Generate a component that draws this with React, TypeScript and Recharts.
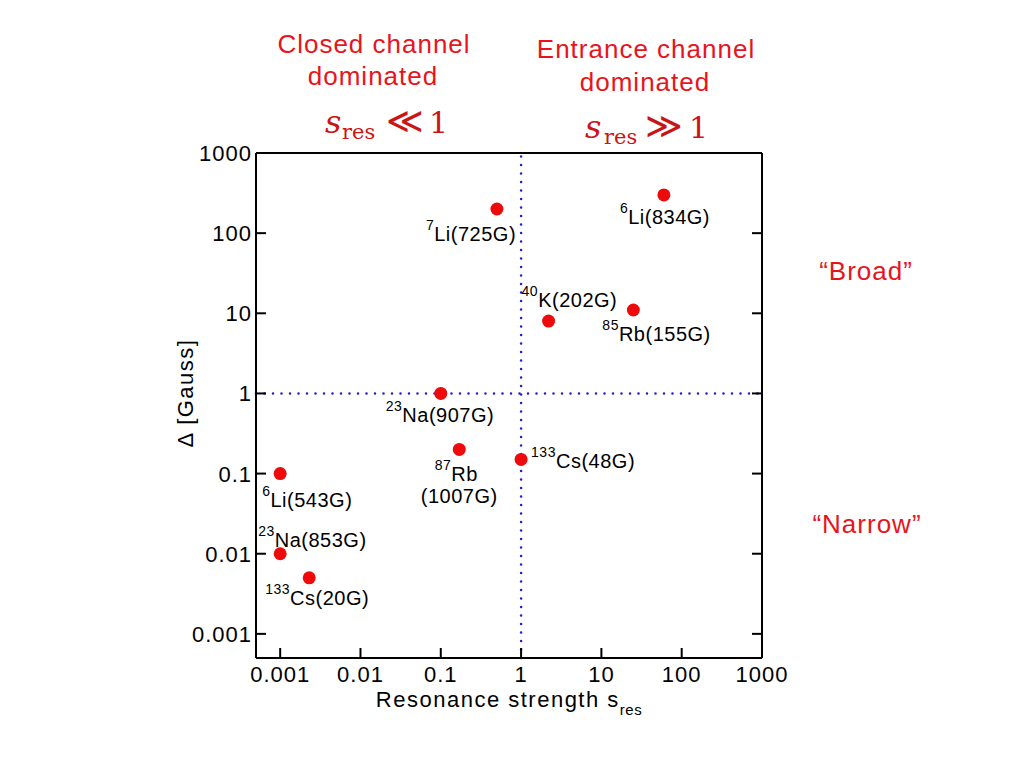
import React from 'react';
import { ScatterChart, Scatter, XAxis, YAxis, ReferenceLine } from 'recharts';

// Feshbach resonances: isotope, field, resonance strength and width
const massNumbers = ['7', '6', '40', '85', '23', '87', '133', '6', '23', '133'];
const elements = ['Li', 'Li', 'K', 'Rb', 'Na', 'Rb', 'Cs', 'Li', 'Na', 'Cs'];
const fields = ['725G', '834G', '202G', '155G', '907G', '1007G', '48G', '543G', '853G', '20G'];
const sRes = [0.5, 60, 2.2, 25, 0.1, 0.17, 1, 0.001, 0.001, 0.0023];
const widthGauss = [200, 300, 8, 11, 1, 0.2, 0.15, 0.1, 0.01, 0.005];

const decadeTicks = [0.001, 0.01, 0.1, 1, 10, 100, 1000];
const logDomain = [0.0005, 1000];

const points = sRes.map((s, i) => ({
  s,
  delta: widthGauss[i],
  mass: massNumbers[i],
  element: elements[i],
  field: fields[i],
  id: i,
}));

// where each label sits relative to its dot
const labelPlacement = [
  { dx: -71, dy: 32 },
  { dx: -44, dy: 29 },
  { dx: -27, dy: -14 },
  { dx: -31, dy: 31 },
  { dx: -55, dy: 29 },
  { dx: -3, dy: 32, twoLine: true },
  { dx: 10, dy: 9 },
  { dx: -18, dy: 33 },
  { dx: -22, dy: -7 },
  { dx: -44, dy: 27 },
];

const SANS = "'Liberation Sans', Arial, Helvetica, sans-serif";
const SERIF = "'DejaVu Serif', 'Liberation Serif', serif";
const RED = '#e8141c';
const MATH_RED = '#cc1414';
const DOT_RED = '#ee0a0a';
const DOT_BLUE = '#2424c8';
const TICK_LEN = 10;

function PointWithLabel(props: any) {
  const { cx, cy, payload } = props;
  const place = labelPlacement[payload.id];
  if (place.twoLine) {
    return (
      <g>
        <circle cx={cx} cy={cy} r={6.5} fill={DOT_RED} />
        <text x={cx + place.dx} y={cy + place.dy} textAnchor="middle" fontFamily={SANS} fontSize={20} letterSpacing={0.5} fill="#000">
          <tspan fontSize={14} dy={-11}>{payload.mass}</tspan>
          <tspan dy={11}>{payload.element}</tspan>
        </text>
        <text x={cx} y={cy + place.dy + 22} textAnchor="middle" fontFamily={SANS} fontSize={20} letterSpacing={0.5} fill="#000">
          ({payload.field})
        </text>
      </g>
    );
  }
  return (
    <g>
      <circle cx={cx} cy={cy} r={6.5} fill={DOT_RED} />
      <text x={cx + place.dx} y={cy + place.dy} fontFamily={SANS} fontSize={20} letterSpacing={0.5} fill="#000">
        <tspan fontSize={14} dy={-11}>{payload.mass}</tspan>
        <tspan dy={11}>{payload.element}({payload.field})</tspan>
      </text>
    </g>
  );
}

// ticks point into the plot; labels sit outside
function LeftTick({ x, y, payload }: any) {
  return (
    <g>
      <line x1={x} x2={x + TICK_LEN} y1={y} y2={y} stroke="#000" strokeWidth={2} />
      <text x={x - 4} y={y + 8} textAnchor="end" fontFamily={SANS} fontSize={22} letterSpacing={1} fill="#000">
        {String(payload.value)}
      </text>
    </g>
  );
}

function BottomTick({ x, y, payload }: any) {
  return (
    <g>
      <line x1={x} x2={x} y1={y} y2={y - TICK_LEN} stroke="#000" strokeWidth={2} />
      <text x={x} y={y + 24} textAnchor="middle" fontFamily={SANS} fontSize={22} letterSpacing={1} fill="#000">
        {String(payload.value)}
      </text>
    </g>
  );
}

function TopTick({ x, y }: any) {
  return <line x1={x} x2={x} y1={y} y2={y + TICK_LEN} stroke="#000" strokeWidth={2} />;
}

function RightTick({ x, y }: any) {
  return <line x1={x} x2={x - TICK_LEN} y1={y} y2={y} stroke="#000" strokeWidth={2} />;
}

const lineStyle = { stroke: '#000', strokeWidth: 2 };

export default function App() {
  return (
    <div style={{ position: 'absolute', left: 0, top: 0, width: 1024, height: 768, background: '#fff', fontFamily: SANS }}>
      <ScatterChart width={1024} height={768} margin={{ top: 152, right: 261, bottom: 70, left: 196 }}>
        <XAxis
          dataKey="s"
          type="number"
          scale="log"
          domain={logDomain}
          allowDataOverflow
          ticks={decadeTicks}
          interval={0}
          height={40}
          tickSize={0}
          tickMargin={0}
          tick={BottomTick}
          axisLine={lineStyle}
          tickLine={false}
        />
        <XAxis
          xAxisId="top"
          orientation="top"
          type="number"
          scale="log"
          domain={logDomain}
          allowDataOverflow
          ticks={decadeTicks}
          interval={0}
          height={1}
          tickSize={0}
          tickMargin={0}
          tick={TopTick}
          axisLine={lineStyle}
          tickLine={false}
        />
        <YAxis
          dataKey="delta"
          type="number"
          scale="log"
          domain={logDomain}
          allowDataOverflow
          ticks={decadeTicks}
          interval={0}
          width={60}
          tickSize={0}
          tickMargin={0}
          tick={LeftTick}
          axisLine={lineStyle}
          tickLine={false}
        />
        <YAxis
          yAxisId="right"
          orientation="right"
          type="number"
          scale="log"
          domain={logDomain}
          allowDataOverflow
          ticks={decadeTicks}
          interval={0}
          width={1}
          tickSize={0}
          tickMargin={0}
          tick={RightTick}
          axisLine={lineStyle}
          tickLine={false}
        />
        <ReferenceLine y={1} stroke={DOT_BLUE} strokeWidth={2.6} strokeDasharray="0 8.5" strokeLinecap="round" />
        <ReferenceLine x={1} stroke={DOT_BLUE} strokeWidth={2.6} strokeDasharray="0 8.5" strokeLinecap="round" />
        <Scatter data={points} shape={PointWithLabel} isAnimationActive={false} />

        <text x={509} y={707} textAnchor="middle" fontFamily={SANS} fontSize={22} letterSpacing={1.5} fill="#000">
          Resonance strength s<tspan fontSize={15} dy={8} letterSpacing={0.5}>res</tspan>
        </text>
        <text x={193} y={393} textAnchor="middle" fontFamily={SANS} fontSize={22} letterSpacing={1.5} fill="#000" transform="rotate(-90 193 393)">
          Δ [Gauss]
        </text>

        <text x={374} y={53} textAnchor="middle" fontFamily={SANS} fontSize={26} letterSpacing={1} fill={RED}>Closed channel</text>
        <text x={373} y={85} textAnchor="middle" fontFamily={SANS} fontSize={26} letterSpacing={1} fill={RED}>dominated</text>
        <text x={646} y={58} textAnchor="middle" fontFamily={SANS} fontSize={26} letterSpacing={1} fill={RED}>Entrance channel</text>
        <text x={645} y={91} textAnchor="middle" fontFamily={SANS} fontSize={26} letterSpacing={1} fill={RED}>dominated</text>

        <text fontFamily={SERIF} fill={MATH_RED}>
          <tspan x={325} y={133} fontSize={32} fontStyle="italic">s</tspan>
          <tspan x={342} y={139} fontSize={21}>res</tspan>
          <tspan x={386} y={133} fontSize={36}>≪</tspan>
          <tspan x={429} y={133} fontSize={30}>1</tspan>
        </text>
        <text fontFamily={SERIF} fill={MATH_RED}>
          <tspan x={585} y={138} fontSize={32} fontStyle="italic">s</tspan>
          <tspan x={604} y={144} fontSize={21}>res</tspan>
          <tspan x={645} y={138} fontSize={36}>≫</tspan>
          <tspan x={689} y={138} fontSize={30}>1</tspan>
        </text>

        <text x={866} y={280} textAnchor="middle" fontFamily={SANS} fontSize={26} letterSpacing={1} fill={RED}>“Broad”</text>
        <text x={867} y={533} textAnchor="middle" fontFamily={SANS} fontSize={26} letterSpacing={1} fill={RED}>“Narrow”</text>
      </ScatterChart>
    </div>
  );
}
